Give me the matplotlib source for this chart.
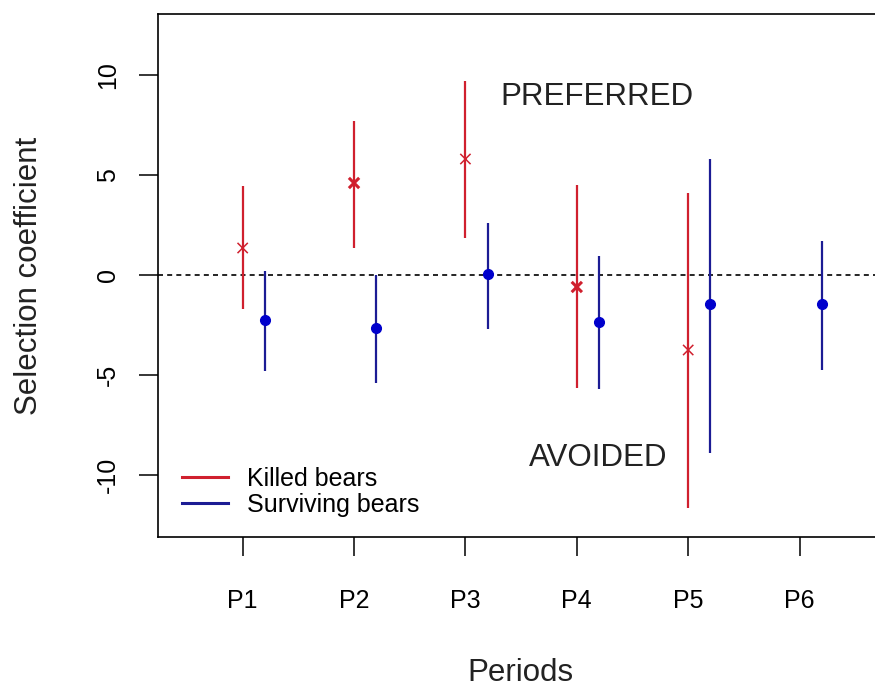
import matplotlib
matplotlib.use('Agg')
import matplotlib.pyplot as plt
from matplotlib.lines import Line2D

periods = ['P1', 'P2', 'P3', 'P4', 'P5', 'P6']

# killed bears: estimate and interval (no P6 value)
killed_est = [1.35, 4.6, 5.8, -0.6, -3.75]
killed_lo = [-1.7, 1.35, 1.85, -5.65, -11.65]
killed_hi = [4.45, 7.7, 9.7, 4.5, 4.1]

# surviving bears: estimate and interval
surv_est = [-2.25, -2.65, 0.05, -2.35, -1.45, -1.45]
surv_lo = [-4.8, -5.4, -2.7, -5.7, -8.9, -4.75]
surv_hi = [0.2, 0.0, 2.6, 0.95, 5.8, 1.7]

red = '#d0202e'
blue_line = '#1c1c94'
blue_pt = '#0000cc'
offset = 0.2

plt.rcParams['font.family'] = ['Liberation Sans', 'DejaVu Sans']

fig = plt.figure(figsize=(8.75, 6.88), dpi=100)
ax = fig.add_axes([158/875, 151/688, 724/875, 523/688])

xk = [i + 1 for i in range(len(killed_est))]
xs = [i + 1 + offset for i in range(len(surv_est))]

ax.axhline(0, color='black', lw=1.2, dashes=(3, 2.5), zorder=1)

ax.vlines(xk, killed_lo, killed_hi, color=red, lw=1.6, zorder=2)
ax.scatter(xk, killed_est, marker='x', s=55, color=red,
           linewidths=[1.1, 2.2, 1.1, 2.2, 1.1], zorder=3)

ax.vlines(xs, surv_lo, surv_hi, color=blue_line, lw=1.6, zorder=2)
ax.plot(xs, surv_est, 'o', ms=7, color=blue_pt, ls='none', zorder=3)

ax.text(4.18, 8.9, 'PREFERRED', fontsize=22.5, ha='center', va='center', color='#222222')
ax.text(4.19, -9.15, 'AVOIDED', fontsize=22.5, ha='center', va='center', color='#222222')

ax.set_xlim(0.24, 6.74)
ax.set_ylim(-13.1, 13.05)
ax.set_xticks(range(1, len(periods) + 1))
ax.set_xticklabels(periods)
ax.set_yticks([-10, -5, 0, 5, 10])
ax.set_yticklabels(['-10', '-5', '0', '5', '10'], rotation=90, va='center')

ax.tick_params(axis='both', direction='out', length=13.5, width=1.1,
               labelsize=18, colors='black')
ax.tick_params(axis='x', pad=24)
ax.tick_params(axis='y', pad=14)

for side in ['left', 'top', 'bottom']:
    ax.spines[side].set_linewidth(1.2)
ax.spines['right'].set_visible(False)

ax.set_xlabel('Periods', fontsize=22.5, color='#222222')
ax.set_ylabel('Selection coefficient', fontsize=22.5, color='#222222')
ax.xaxis.set_label_coords(0.5, -0.232)
ax.yaxis.set_label_coords(-0.157, 0.5)

handles = [Line2D([], [], color=red, lw=2.2), Line2D([], [], color=blue_line, lw=2.2)]
ax.legend(handles, ['Killed bears', 'Surviving bears'], loc='lower left',
          bbox_to_anchor=(0.033, 0.038), frameon=False, fontsize=18,
          handlelength=1.85, handletextpad=0.77, labelspacing=0.1,
          borderpad=0, borderaxespad=0)

fig.savefig('out.png', dpi=100)
